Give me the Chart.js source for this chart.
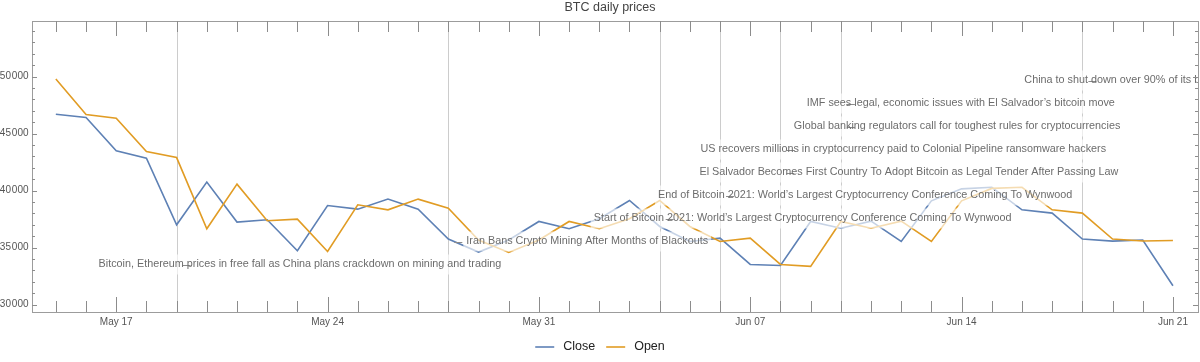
<!DOCTYPE html>
<html>
<head>
<meta charset="utf-8">
<title>BTC daily prices</title>
<script src="https://cdn.jsdelivr.net/npm/chart.js@4.4.1/dist/chart.umd.min.js"></script>
<style>
  html, body { margin: 0; padding: 0; background: #fff; }
  #wrap { width: 1200px; height: 362px; }
</style>
</head>
<body>
<div id="wrap"><canvas id="btcChart" width="1200" height="362"></canvas></div>
<script>
const dates = [
  '05-15', '05-16', '05-17', '05-18', '05-19', '05-20', '05-21', '05-22', '05-23', '05-24',
  '05-25', '05-26', '05-27', '05-28', '05-29', '05-30', '05-31', '06-01', '06-02', '06-03',
  '06-04', '06-05', '06-06', '06-07', '06-08', '06-09', '06-10', '06-11', '06-12', '06-13',
  '06-14', '06-15', '06-16', '06-17', '06-18', '06-19', '06-20', '06-21',
];
const closePrices = [
  46706, 46412, 43490, 42850, 37008, 40750, 37244, 37446, 34730, 38700,
  38380, 39260, 38380, 35755, 34617, 35678, 37300, 36658, 37533, 39137,
  36860, 35545, 35840, 33530, 33443, 37300, 36700, 37330, 35545, 39110,
  40160, 40300, 38322, 38030, 35755, 35580, 35670, 31665,
];
const openPrices = [
  49798, 46675, 46355, 43430, 42903, 36658, 40573, 37358, 37505, 34670,
  38760, 38322, 39260, 38470, 35678, 34580, 35678, 37300, 36658, 37533,
  39137, 36860, 35545, 35840, 33530, 33360, 37300, 36700, 37330, 35545,
  39110, 40200, 40300, 38322, 38030, 35755, 35580, 35630,
];
const xTickDates = ['05-17', '05-24', '05-31', '06-07', '06-14', '06-21'];
const xTickLabels = ['May 17', 'May 24', 'May 31', 'Jun 07', 'Jun 14', 'Jun 21'];
const yTickValues = [30000, 35000, 40000, 45000, 50000];
const yTickLabels = ['30\u200a000', '35\u200a000', '40\u200a000', '45\u200a000', '50\u200a000'];
const eventDates = ['05-19', '05-28', '06-04', '06-06', '06-08', '06-08', '06-10', '06-10', '06-18'];
const eventTitles = [
  'Bitcoin, Ethereum prices in free fall as China plans crackdown on mining and trading',
  'Iran Bans Crypto Mining After Months of Blackouts',
  'Start of Bitcoin 2021: World\u2019s Largest Cryptocurrency Conference Coming To Wynwood',
  'End of Bitcoin 2021: World\u2019s Largest Cryptocurrency Conference Coming To Wynwood',
  'El Salvador Becomes First Country To Adopt Bitcoin as Legal Tender After Passing Law',
  'US recovers millions in cryptocurrency paid to Colonial Pipeline ransomware hackers',
  'Global banking regulators call for toughest rules for cryptocurrencies',
  'IMF sees legal, economic issues with El Salvador\u2019s bitcoin move',
  'China to shut down over 90% of its bitcoin mining capacity',
];

// layout only: horizontal nudge of each event label (px from its event line)
const labelShift = [-78, 18, -66, -62, -81, -80, -47, -34, -58];

const BLUE = '#5e81b5';
const ORANGE = '#e19c24';
const FONT = '"Liberation Sans", Arial, sans-serif';

function dayOf(d) {
  return dates.indexOf(d);
}

const plotDecor = {
  id: 'plotDecor',
  beforeDatasetsDraw(chart) {
    const { ctx, chartArea: a, scales: { x } } = chart;
    ctx.save();
    ctx.strokeStyle = '#cccccc';
    ctx.lineWidth = 1;
    const seen = new Set();
    for (const d of eventDates) {
      if (seen.has(d)) continue;
      seen.add(d);
      const px = Math.round(x.getPixelForValue(dayOf(d))) + 0.5;
      ctx.beginPath();
      ctx.moveTo(px, a.top);
      ctx.lineTo(px, a.bottom);
      ctx.stroke();
    }
    ctx.restore();
  },
  afterDatasetsDraw(chart) {
    const { ctx, chartArea: a, scales: { x, y } } = chart;
    ctx.save();

    // event labels: faded backing, leader, text (clipped to the plot)
    ctx.save();
    ctx.beginPath();
    ctx.rect(a.left, a.top, a.right - a.left, a.bottom - a.top);
    ctx.clip();
    ctx.font = '10.8px ' + FONT;
    const boxes = [];
    eventTitles.forEach((t, k) => {
      const ex = x.getPixelForValue(dayOf(eventDates[k]));
      const ly = a.bottom - 47.5 - 23 * k;
      const lx = ex + labelShift[k];
      const w = ctx.measureText(t).width;
      boxes.push({ ex, lx, ly, w, t });
    });
    ctx.beginPath();
    for (const b of boxes) ctx.rect(b.lx - 3, b.ly - 10, b.w + 6, 20);
    ctx.fillStyle = 'rgba(255,255,255,0.65)';
    ctx.fill();

    ctx.fillStyle = '#6c6c6c';
    ctx.strokeStyle = '#8a8a8a';
    ctx.lineWidth = 1;
    ctx.textBaseline = 'middle';
    ctx.textAlign = 'left';
    for (const b of boxes) {
      ctx.beginPath();
      ctx.moveTo(b.ex + 6, Math.round(b.ly) + 0.5);
      ctx.lineTo(b.ex + 14, Math.round(b.ly) + 0.5);
      ctx.stroke();
      ctx.fillText(b.t, b.lx, b.ly);
    }
    ctx.restore();

    // frame
    ctx.strokeStyle = '#9c9c9c';
    ctx.lineWidth = 1;
    ctx.strokeRect(Math.round(a.left) + 0.5, Math.round(a.top) + 0.5,
      Math.round(a.right - a.left), Math.round(a.bottom - a.top));

    // x ticks (bottom + top)
    ctx.strokeStyle = '#8c8c8c';
    const majorX = xTickDates.map(dayOf);
    ctx.beginPath();
    for (let i = 0; i < dates.length; i++) {
      const px = Math.round(x.getPixelForValue(i)) + 0.5;
      const len = majorX.includes(i) ? 15 : 11;
      ctx.moveTo(px, a.bottom);
      ctx.lineTo(px, a.bottom - len);
      ctx.moveTo(px, a.top);
      ctx.lineTo(px, a.top + len);
    }
    // y ticks (left + right)
    for (let v = 30000; v <= y.max; v += 1000) {
      const py = Math.round(y.getPixelForValue(v)) + 0.5;
      const len = v % 5000 === 0 ? 5 : 3;
      ctx.moveTo(a.left, py);
      ctx.lineTo(a.left + len, py);
      ctx.moveTo(a.right, py);
      ctx.lineTo(a.right - len, py);
    }
    ctx.stroke();

    // tick labels
    ctx.fillStyle = '#555555';
    ctx.font = '10px ' + FONT;
    ctx.textAlign = 'center';
    ctx.textBaseline = 'middle';
    xTickDates.forEach((d, i) => {
      ctx.fillText(xTickLabels[i], x.getPixelForValue(dayOf(d)), a.bottom + 10);
    });
    ctx.textAlign = 'right';
    yTickValues.forEach((v, i) => {
      ctx.fillText(yTickLabels[i], a.left - 3.5, y.getPixelForValue(v));
    });
    ctx.restore();
  },
  afterDraw(chart) {
    const { ctx, chartArea: a } = chart;
    ctx.save();
    ctx.fillStyle = '#444444';
    ctx.font = '12.5px ' + FONT;
    ctx.textAlign = 'center';
    ctx.textBaseline = 'middle';
    ctx.fillText('BTC daily prices', (a.left + a.right) / 2 - 5, 8);

    // legend
    ctx.font = '12.5px ' + FONT;
    const items = chart.data.datasets.slice().sort((p, q) => p.legendIndex - q.legendIndex);
    const sample = 19;
    const gap = 9;
    const between = 11;
    let total = 0;
    items.forEach((ds, i) => {
      total += sample + gap + ctx.measureText(ds.label).width + (i ? between : 0);
    });
    let cx = chart.width / 2 - total / 2;
    const cy = 347;
    ctx.textAlign = 'left';
    items.forEach((ds) => {
      ctx.strokeStyle = ds.borderColor;
      ctx.lineWidth = 1.6;
      ctx.beginPath();
      ctx.moveTo(cx, cy);
      ctx.lineTo(cx + sample, cy);
      ctx.stroke();
      cx += sample + gap;
      ctx.fillStyle = '#222222';
      ctx.fillText(ds.label, cx, cy);
      cx += ctx.measureText(ds.label).width + between;
    });
    ctx.restore();
  },
};

function initBtcChart() {
  const canvas = document.getElementById('btcChart');
  if (!(canvas instanceof HTMLCanvasElement)) return;
  if (typeof Chart === 'undefined') return;

  // eslint-disable-next-line no-new
  new Chart(canvas, {
    type: 'line',
    data: {
      datasets: [
        {
          label: 'Close',
          legendIndex: 0,
          order: 1,
          data: closePrices.map((v, i) => ({ x: i, y: v })),
          borderColor: BLUE,
          borderWidth: 1.6,
          pointRadius: 0,
          tension: 0,
        },
        {
          label: 'Open',
          legendIndex: 1,
          order: 0,
          data: openPrices.map((v, i) => ({ x: i, y: v })),
          borderColor: ORANGE,
          borderWidth: 1.6,
          pointRadius: 0,
          tension: 0,
        },
      ],
    },
    options: {
      responsive: false,
      animation: false,
      devicePixelRatio: 1,
      layout: { padding: { left: 32, right: 2, top: 21, bottom: 50 } },
      plugins: {
        legend: { display: false },
        title: { display: false },
        tooltip: { enabled: false },
      },
      scales: {
        x: { type: 'linear', min: -0.79, max: 37.83, display: false },
        y: { min: 29360, max: 54880, display: false },
      },
    },
    plugins: [plotDecor],
  });
}

document.addEventListener('DOMContentLoaded', () => {
  initBtcChart();
});
</script>
</body>
</html>
